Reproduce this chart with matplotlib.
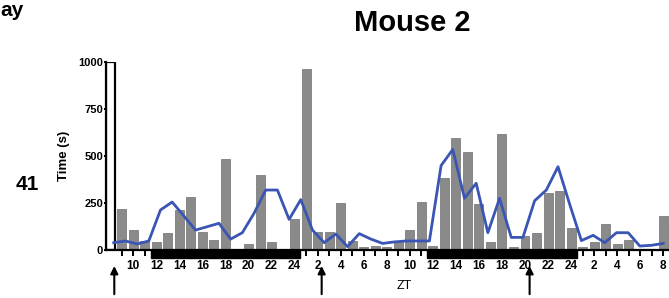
import numpy as np
import matplotlib
matplotlib.use("Agg")
import matplotlib.pyplot as plt
import matplotlib.transforms as mtransforms

plt.rcParams['font.family'] = ['Liberation Sans', 'DejaVu Sans']

# --- data (hour bins, ZT counted on from day 1: 25 = ZT1 of day 2, ...) ---
hours = list(range(9, 57))
bar_time = [220, 105, 50, 44, 90, 213, 282, 96, 51, 486, 0, 30, 397, 44, 0, 163,
            961, 97, 95, 252, 50, 18, 23, 18, 40, 105, 257, 23, 385, 594, 519, 245,
            44, 615, 18, 74, 90, 301, 316, 119, 15, 44, 140, 30, 52, 0, 0, 180]
line_time = [39, 48, 32, 48, 213, 255, 181, 106, 124, 142, 58, 92, 195, 319, 319, 163,
             268, 106, 39, 85, 18, 87, 58, 35, 43, 48, 48, 48, 449, 535, 275, 355,
             92, 275, 67, 67, 262, 319, 443, 243, 50, 78, 39, 92, 92, 21, 25, 35]
dark_periods = [(11.5, 24.5), (35.5, 48.5)]
arrow_hours = [8.35, 26.35, 44.4]
y_ticks = [0, 250, 500, 750, 1000]

x_min, x_max = 7.63, 56.5

fig = plt.figure(figsize=(6.69, 2.98), dpi=100)
ax = fig.add_axes([106 / 669, 48 / 298, 563 / 669, 188 / 298])

# white marker bar at the start of the recording
ax.bar(x_min, 1000, width=0.76, align='edge', color='white', edgecolor='black',
       linewidth=1.6, zorder=1)

# bars + line
ax.bar(hours, bar_time, width=0.78, color='#8a8a8a', edgecolor='#6f6f6f',
       linewidth=0.5, zorder=2)
line_x = np.linspace(8.3, 56, len(line_time))
ax.plot(line_x, line_time, color='#3a55b4', linewidth=2.0, zorder=3)

ax.set_xlim(x_min, x_max)
ax.set_ylim(0, 1000)

# axes look
for s in ['top', 'right']:
    ax.spines[s].set_visible(False)
ax.spines['left'].set_linewidth(1.6)
ax.spines['bottom'].set_linewidth(1.6)

ax.set_yticks(y_ticks)
ax.set_yticklabels([str(v) for v in y_ticks], fontsize=8, fontweight='bold')
ax.tick_params(axis='y', length=1.5, width=1.4, pad=0.5)

ax.set_xticks(hours)
ax.set_xticklabels([str(h % 24 or 24) if h % 2 == 0 else '' for h in hours],
                   fontsize=8.5, fontweight='bold')
ax.tick_params(axis='x', length=4.5, width=1.4, pad=2.5)

# dark phase strips under the axis
trans = mtransforms.blended_transform_factory(ax.transData, ax.transAxes)
for start, end in dark_periods:
    ax.add_patch(plt.Rectangle((start, -0.045), end - start, 0.045, transform=trans,
                               color='black', clip_on=False, zorder=5))

# injection arrows
for h in arrow_hours:
    ax.annotate('', xy=(h, -0.085), xytext=(h, -0.235), xycoords=trans, textcoords=trans,
                arrowprops=dict(arrowstyle='-|>', color='black', lw=1.5,
                                mutation_scale=11, shrinkA=0, shrinkB=0),
                annotation_clip=False)

ax.set_ylabel('Time (s)', fontsize=9.5, fontweight='bold', labelpad=6)
fig.text(404 / 669, 1 - 286 / 298, 'ZT', fontsize=9, ha='center', va='center')
fig.text(412 / 669, 1 - 23 / 298, 'Mouse 2', fontsize=21, fontweight='bold',
         ha='center', va='center')
fig.text(27 / 669, 1 - 184 / 298, '41', fontsize=15, fontweight='bold',
         ha='center', va='center')
fig.text(0.5 / 669, 1 - 10 / 298, 'ay', fontsize=15, fontweight='bold',
         ha='left', va='center')

fig.savefig('out.png', dpi=100)
